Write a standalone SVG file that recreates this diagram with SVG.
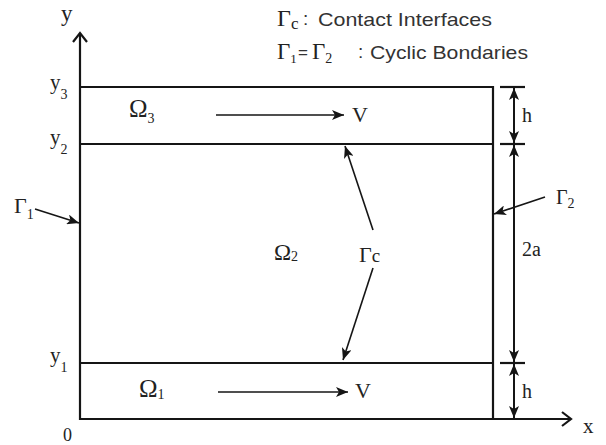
<svg xmlns="http://www.w3.org/2000/svg" width="606" height="445" viewBox="0 0 606 445">
<style>
.ln{stroke:#151515;stroke-width:2.2;fill:none}
.ar{stroke:#151515;stroke-width:1.6;fill:none;marker-end:url(#ah)}
.dim{stroke:#151515;stroke-width:2;fill:none;marker-end:url(#ah)}
.s{font-family:"Liberation Serif","Times New Roman",serif;fill:#222}
.ss{font-family:"Liberation Sans",Arial,sans-serif;fill:#333}
.sub{font-size:14px}
</style>
<defs>
<marker id="ah" viewBox="0 0 12 10" refX="12" refY="5" markerWidth="12" markerHeight="10" markerUnits="userSpaceOnUse" orient="auto">
<path d="M0,0 L12,5 L0,10 L3,5 z" fill="#151515"/>
</marker>
</defs>
<g id="axes">
<line class="ln" x1="80" y1="420" x2="80" y2="33"/>
<polyline class="ln" points="73,42 80,33 87,42" stroke-width="2.6"/>
<line class="ln" x1="79" y1="419" x2="571" y2="419"/>
<polyline class="ln" points="562,412 571,419 562,426" stroke-width="2.6"/>
<text class="s" x="61" y="21" font-size="23">y</text>
<text class="s" x="583" y="433" font-size="21">x</text>
<text class="s" x="63" y="441" font-size="18">0</text>
</g>
<g id="domain">
<line class="ln" x1="80" y1="87" x2="494" y2="87"/>
<line class="ln" x1="80" y1="144" x2="494" y2="144"/>
<line class="ln" x1="80" y1="363" x2="494" y2="363"/>
<line class="ln" x1="493" y1="86" x2="493" y2="420"/>
</g>
<g id="ylabels">
<text class="s" x="50" y="89" font-size="21">y<tspan class="sub" dy="10">3</tspan></text>
<text class="s" x="50" y="144" font-size="21">y<tspan class="sub" dy="10">2</tspan></text>
<text class="s" x="50" y="362" font-size="21">y<tspan class="sub" dy="10">1</tspan></text>
</g>
<g id="omega3">
<text class="s" x="129" y="117" font-size="25">Ω<tspan class="sub" dy="6">3</tspan></text>
<text class="s" x="352" y="122" font-size="22">V</text>
</g>
<g id="omega2">
<text class="s" x="274" y="260" font-size="23">Ω<tspan class="sub" dy="1">2</tspan></text>
</g>
<g id="omega1">
<text class="s" x="139" y="397" font-size="25">Ω<tspan class="sub" dy="2">1</tspan></text>
<text class="s" x="355" y="398" font-size="22">V</text>
</g>
<g id="gamma-c">
<text class="s" x="359" y="262" font-size="22">Γ<tspan font-size="19">c</tspan></text>
</g>
<g id="gamma1">
<text class="s" x="14" y="213" font-size="22">Γ<tspan class="sub" dy="6">1</tspan></text>
</g>
<g id="gamma2">
<text class="s" x="556" y="204" font-size="20">Γ<tspan class="sub" dy="4">2</tspan></text>
</g>
<g id="dimensions">
<line class="ln" x1="500" y1="87" x2="525" y2="87"/>
<line class="ln" x1="500" y1="144" x2="525" y2="144"/>
<line class="ln" x1="500" y1="363" x2="525" y2="363"/>
<text class="s" x="522" y="122" font-size="20">h</text>
<text class="s" x="522" y="256" font-size="20">2a</text>
<text class="s" x="522" y="398" font-size="20">h</text>
</g>
<g id="legend">
<text class="s" x="277" y="26" font-size="24">Γ<tspan font-size="17" dy="3">c</tspan></text>
<text class="ss" x="303" y="25" font-size="19">:</text>
<text class="ss" x="318" y="26" font-size="19" textLength="174" lengthAdjust="spacingAndGlyphs">Contact Interfaces</text>
<text class="s" x="277" y="59" font-size="23">Γ<tspan font-size="13" dy="4">1</tspan></text>
<text class="ss" x="298" y="58" font-size="17">=</text>
<text class="s" x="312" y="59" font-size="23">Γ<tspan font-size="14" dy="4">2</tspan></text>
<text class="ss" x="358" y="58" font-size="19">:</text>
<text class="ss" x="370" y="59" font-size="19" textLength="158" lengthAdjust="spacingAndGlyphs">Cyclic Bondaries</text>
</g>
<g id="connectors">
<line class="ar" x1="216" y1="115" x2="344" y2="115"/>
<line class="ar" x1="218" y1="392" x2="348" y2="392"/>
<line class="ar" x1="373" y1="230" x2="345" y2="146"/>
<line class="ar" x1="373" y1="268" x2="343" y2="360"/>
<line class="ar" x1="35" y1="209" x2="79" y2="223"/>
<line class="ar" x1="545" y1="197" x2="494" y2="214"/>
<line class="dim" x1="514" y1="116" x2="514" y2="88"/>
<line class="dim" x1="514" y1="116" x2="514" y2="143"/>
<line class="dim" x1="514" y1="254" x2="514" y2="145"/>
<line class="dim" x1="514" y1="254" x2="514" y2="362"/>
<line class="dim" x1="514" y1="391" x2="514" y2="364"/>
<line class="dim" x1="514" y1="391" x2="514" y2="418"/>
</g>
</svg>
